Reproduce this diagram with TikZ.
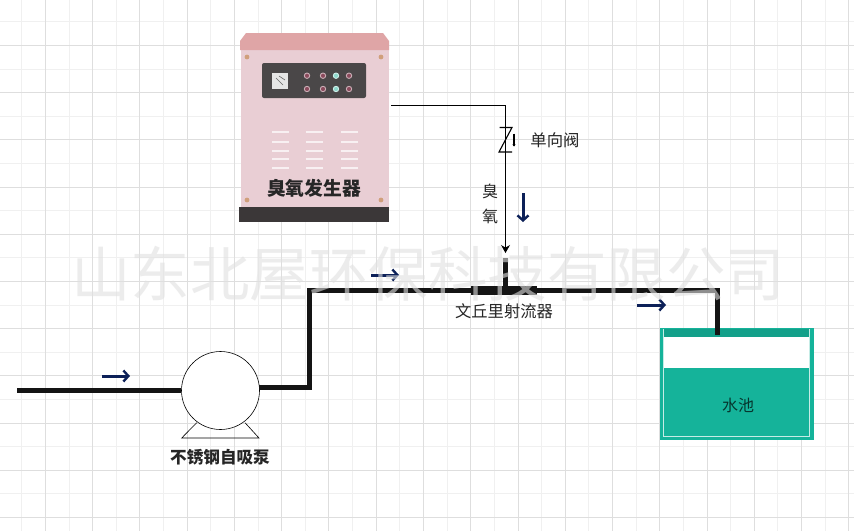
\documentclass[tikz,border=0pt]{standalone}
\usepackage{fontspec}
\setmainfont{Noto Sans CJK SC}
\usetikzlibrary{arrows.meta}

\definecolor{flowblue}{HTML}{0C2058}
\definecolor{pooltop}{HTML}{13A08A}
\definecolor{poolteal}{HTML}{15B39A}
\definecolor{bodypink}{HTML}{E9CED4}
\definecolor{cappink}{HTML}{DFA5A6}
\definecolor{basedark}{HTML}{3B3738}
\definecolor{paneldark}{HTML}{4A4748}
\definecolor{lampred}{HTML}{8A4A5C}
\definecolor{lampteal}{HTML}{8FD8CC}

\tikzset{
    minorgrid/.style = {
        line width=0.8pt,
        black!6
    },
    majorgrid/.style = {
        line width=0.8pt,
        black!13
    },
    pipe/.style = {
        line width=5pt,
        black!92,
        line join=miter
    },
    flow/.style = {
        line width=3pt,
        flowblue,
        -{Straight Barb[length=5pt,width=11pt,line width=2.4pt]}
    },
    tag/.style = {
        font=\fontsize{16}{16}\selectfont,
        inner sep=0pt,
        black!85
    },
    boldtag/.style = {
        font=\fontsize{16.6}{16.6}\selectfont\bfseries,
        inner sep=0pt,
        black!85
    },
    vent/.style = {
        line width=1.2pt,
        white!70!bodypink
    },
    lamp/.style = {
        draw=white!55!#1,
        line width=0.9pt,
        fill=#1
    }
}

\begin{document}
\begin{tikzpicture}[x=1pt,y=-1pt]
    \useasboundingbox (0,0) rectangle (854,531);
    \fill[white] (0,0) rectangle (854,531);

    % Draw grid
    \foreach \k in {0,2,...,34} {
        \draw[minorgrid] ({21.7 + \k*23.63},0) -- ({21.7 + \k*23.63},531);
    }
    \foreach \k in {0,2,...,20} {
        \draw[minorgrid] (0,{21.7 + \k*23.6}) -- (854,{21.7 + \k*23.6});
    }
    \foreach \k in {1,3,...,35} {
        \draw[majorgrid] ({21.7 + \k*23.63},0) -- ({21.7 + \k*23.63},531);
    }
    \foreach \k in {1,3,...,21} {
        \draw[majorgrid] (0,{21.7 + \k*23.6}) -- (854,{21.7 + \k*23.6});
    }

    % Draw generator
    \node[fill=bodypink, inner sep=0pt, minimum width=148pt, minimum height=160pt] (generator) at (314.5,128) {};
    \fill[cappink] (240,50) -- (240,41) -- (246,33) -- (383,33) -- (389,41) -- (389,50) -- cycle;
    \fill[basedark] (239,207) rectangle (389,222);
    \fill[paneldark, rounded corners=2pt] (262,63) rectangle (366,98);
    \fill[black!10] (272,73) rectangle (288,89);
    \draw[black!60, line width=0.6pt] (276,78) -- (283,85) (279,76) -- (285,80);
    \foreach \x/\col in {307/lampred, 323/lampred, 336/lampteal, 349/lampred} {
        \draw[lamp=\col] (\x,75.7) circle (2.7pt);
        \draw[lamp=\col] (\x,89) circle (2.7pt);
    }
    \foreach \x in {272,305.5,341} {
        \foreach \y in {132,142,151,159,168} {
            \draw[vent] (\x,\y) -- ++(17,0);
        }
    }
    \foreach \x in {247,381} {
        \foreach \y in {57,200} {
            \fill[brown!60!bodypink] (\x,\y) circle (2.4pt);
        }
    }
    \node[font=\fontsize{18.8}{18.8}\selectfont\bfseries, inner sep=0pt, black!85] (generatorlabel) at (314,188) {臭氧发生器};

    % Draw tank
    \node[fill=poolteal, inner sep=0pt, minimum width=154pt, minimum height=112pt] (tank) at (737,384) {};
    \fill[pooltop] (663,329) rectangle (810,337);
    \fill[white] (663.5,337) rectangle (809.5,368);
    \draw[white!75!poolteal, line width=0.7pt] (663.5,329) -- (663.5,436) -- (809.5,436) -- (809.5,329);
    \node[tag, black!70!poolteal] (tanklabel) at (738,405) {水池};

    % Draw pump
    \node[draw, circle, fill=white, line width=0.6pt, inner sep=0pt, minimum size=78pt] (pump) at (220.5,390.5) {};
    \draw[line width=0.6pt] (196.7,422.7) -- (181.7,438) -- (259,438) -- (245,422.7);
    \node[boldtag] (pumplabel) at (220,457) {不锈钢自吸泵};

    % Draw pipes
    \coordinate (inlet) at (17,390.5);
    \coordinate (pumpout) at (259,387);
    \coordinate (riser) at (309.5,290.5);
    \coordinate (tankdrop) at (717.5,290.5);
    \coordinate (tankin) at (717.5,335);
    \node[fill=black!92, inner sep=0pt, minimum width=66pt, minimum height=9pt] (venturi) at (504,290.5) {};
    \draw[pipe] (inlet) -- (pump.west);
    \draw[pipe] (pumpout) -| (riser) -- (venturi.west);
    \draw[pipe] (venturi.east) -- (tankdrop) -- (tankin);
    \coordinate (stubtop) at (505.5,258);
    \draw[pipe] (stubtop) -- (venturi.north -| stubtop);
    \node[tag, font=\fontsize{16.3}{16.3}\selectfont] (venturilabel) at (504,311) {文丘里射流器};

    % Draw ozone line
    \coordinate (genout) at (391,105);
    \coordinate (ozonein) at (505.5,253);
    \draw[line width=0.8pt, -{Stealth[length=8pt,width=9pt]}] (genout) -| (ozonein);
    \coordinate (valve) at (505.5,139.5);
    \draw[line width=1.1pt] ([shift={(-6,-12)}]valve) -- ([shift={(6.5,-12)}]valve) -- ([shift={(-6.5,12.5)}]valve) -- ([shift={(6.5,12.5)}]valve);
    \draw[line width=1.4pt, -{Stealth[length=2pt,width=3pt]}] ([shift={(8.5,-6)}]valve) -- ([shift={(8.5,7)}]valve);
    \node[tag, font=\fontsize{16.4}{16.4}\selectfont] (valvelabel) at (555,140) {单向阀};
    \node[tag] (ozonelabela) at (490,191.5) {臭};
    \node[tag] (ozonelabelb) at (490,216.5) {氧};

    % Draw arrows
    \coordinate (flowa) at (102,376);
    \coordinate (flowb) at (371,275);
    \coordinate (flowc) at (637,305);
    \coordinate (flowd) at (523,193);
    \draw[flow] (flowa) -- ++(28,0);
    \draw[flow] (flowb) -- ++(28,0);
    \draw[flow] (flowc) -- ++(29,0);
    \draw[flow] (flowd) -- ++(0,29);

    % Draw watermark
    \node[font=\fontsize{59.5}{59.5}\selectfont, text=black!12, text opacity=0.6, inner sep=0pt, text height=45pt, text depth=5pt] (watermark) at (428,276) {山东北屋环保科技有限公司};
\end{tikzpicture}
\end{document}
